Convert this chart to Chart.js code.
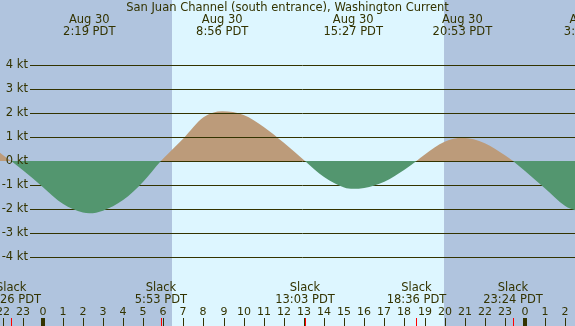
<!DOCTYPE html>
<html>
<head>
<meta charset="utf-8">
<script src="https://cdn.jsdelivr.net/npm/chart.js@4.4.0/dist/chart.umd.min.js"></script>
<style>
  html, body { margin: 0; padding: 0; background: #b0c4de; overflow: hidden; }
  canvas { display: block; }
</style>
</head>
<body>
<canvas id="tide" width="575" height="326"></canvas>
<script>
// hours from midnight Aug 30 PDT (negative = Aug 29, over 24 = Aug 31)
hours = [-2.5, -2, -1.567, -1, 0, 1, 2, 2.317, 3, 4, 5, 5.883, 6, 7, 8, 8.933, 10, 11, 12, 13.05,
         14, 15, 15.45, 16, 17, 18, 18.6, 19, 20, 20.883, 22, 23, 23.4, 24, 25, 26, 26.5, 27.23]
// current speed in knots, flood positive, ebb negative
knots = [0.62, 0.26, 0, -0.38, -1.08, -1.78, -2.15, -2.18, -2.07, -1.63, -0.86, 0, 0.1, 0.94, 1.82, 2.07, 1.92, 1.42, 0.76, 0,
         -0.67, -1.10, -1.16, -1.12, -0.86, -0.36, 0, 0.26, 0.80, 0.97, 0.74, 0.24, 0, -0.42, -1.15, -1.88, -2.05, -2.15]

// max flood / max ebb events (top labels)
peakHours = [2.317, 8.933, 15.45, 20.883, 27.233]
peakDates = ['Aug 30', 'Aug 30', 'Aug 30', 'Aug 30', 'Aug 31']
peakTimes = ['2:19 PDT', '8:56 PDT', '15:27 PDT', '20:53 PDT', '3:14 PDT']

// slack water events (bottom labels)
slackHours = [-1.567, 5.883, 13.05, 18.6, 23.4]
slackTimes = ['22:26 PDT', '5:53 PDT', '13:03 PDT', '18:36 PDT', '23:24 PDT']

// daylight
sunrise = 6.434
sunset = 19.97

kticks = [-4, -3, -2, -1, 0, 1, 2, 3, 4]
hourTicks = [-2, -1, 0, 1, 2, 3, 4, 5, 6, 7, 8, 9, 10, 11, 12, 13, 14, 15, 16, 17, 18, 19, 20, 21, 22, 23, 24, 25, 26]

titleText = 'San Juan Channel (south entrance), Washington Current'

textColor = '#333300'
nightColor = '#b0c4de'
dayColor = '#ddf6ff'
floodColor = '#bc9b7a'
ebbColor = '#53966f'

points = hours.map((h, i) => ({ x: h, y: knots[i] }))

function txt(ctx, s, x, y, size, align) {
    ctx.font = size + 'px "DejaVu Sans"'
    ctx.textAlign = align || 'center'
    ctx.textBaseline = 'middle'
    ctx.fillText(s, x, y)
}

const tideDecor = {
    id: 'tideDecor',
    beforeDraw(chart) {
        const ctx = chart.ctx
        const xs = chart.scales.x
        ctx.save()
        ctx.fillStyle = nightColor
        ctx.fillRect(0, 0, chart.width, chart.height)
        const x1 = xs.getPixelForValue(sunrise)
        const x2 = xs.getPixelForValue(sunset)
        ctx.fillStyle = dayColor
        ctx.fillRect(x1, 0, x2 - x1, chart.height)
        ctx.restore()
    },
    afterDatasetDraw(chart, args) {
        // grid goes over the flood fill but under the ebb fill
        if (args.index !== 0) return
        const ctx = chart.ctx
        const ys = chart.scales.y
        ctx.save()
        ctx.strokeStyle = textColor
        ctx.lineWidth = 1
        kticks.forEach(k => {
            const py = Math.round(ys.getPixelForValue(k)) + 0.5
            ctx.beginPath()
            ctx.moveTo(30, py)
            ctx.lineTo(chart.width, py)
            ctx.stroke()
        })
        ctx.restore()
    },
    afterDraw(chart) {
        const ctx = chart.ctx
        const xs = chart.scales.x
        const ys = chart.scales.y
        ctx.save()
        ctx.fillStyle = textColor

        txt(ctx, titleText, chart.width / 2, 8, 11.5)

        peakHours.forEach((h, i) => {
            const px = xs.getPixelForValue(h)
            txt(ctx, peakDates[i], px, 20, 11.5)
            txt(ctx, peakTimes[i], px, 32, 11.5)
        })

        kticks.forEach(k => {
            txt(ctx, k + ' kt', 28, ys.getPixelForValue(k), 11.5, 'right')
        })

        slackHours.forEach((h, i) => {
            const px = xs.getPixelForValue(h)
            txt(ctx, 'Slack', px, 288, 11.5)
            txt(ctx, slackTimes[i], px, 300, 11.5)
        })

        hourTicks.forEach(h => {
            const px = Math.round(xs.getPixelForValue(h))
            txt(ctx, String(((h % 24) + 24) % 24), px, 312, 11)
            if (h % 24 == 0) {
                ctx.fillRect(px - 2, 318, 4, 8)
            } else {
                ctx.fillRect(px, 318, 1, 8)
            }
        })

        ctx.fillStyle = '#ff0000'
        slackHours.forEach(h => {
            const px = Math.round(xs.getPixelForValue(h))
            ctx.fillRect(px, 318, 1, 8)
        })
        ctx.restore()
    }
}

const xMin = -2.125
const xMax = xMin + 575 / 20.096

new Chart(document.getElementById('tide'), {
    type: 'line',
    data: {
        datasets: [{
            data: points,
            order: 2,
            borderWidth: 0,
            borderColor: 'transparent',
            pointRadius: 0,
            cubicInterpolationMode: 'monotone',
            fill: { target: 'origin', above: floodColor, below: 'transparent' }
        }, {
            data: points,
            order: 1,
            borderWidth: 0,
            borderColor: 'transparent',
            pointRadius: 0,
            cubicInterpolationMode: 'monotone',
            fill: { target: 'origin', above: 'transparent', below: ebbColor }
        }]
    },
    options: {
        responsive: false,
        animation: false,
        layout: { padding: 0 },
        plugins: { legend: { display: false }, tooltip: { enabled: false } },
        scales: {
            x: { type: 'linear', display: false, min: xMin, max: xMax },
            y: { display: false, min: -6.875, max: 6.7083 }
        }
    },
    plugins: [tideDecor]
})
</script>
</body>
</html>
